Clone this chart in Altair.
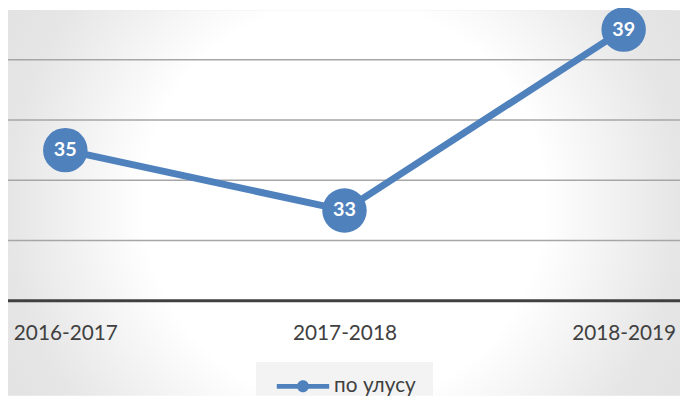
import altair as alt
import pandas as pd

years = ["2016-2017", "2017-2018", "2018-2019"]
values = [35, 33, 39]
series = ["по улусу", "по улусу", "по улусу"]
grid_values = [32, 34, 36, 38]
axis_base = [30]

df = pd.DataFrame({"year": years, "value": values, "series": series})
grid_df = pd.DataFrame({"g": grid_values})
base_df = pd.DataFrame({"g": axis_base})

W, H = 672, 294
PB = 96
BLUE = "#4F81BD"
FONT = "Lato"

y_scale = alt.Scale(domain=[30, 39.64], nice=False, zero=False)

x_enc = alt.X("year:N", sort=years, scale=alt.Scale(type="point", range=[58, 623], padding=0),
              axis=alt.Axis(title=None, labelAngle=0, ticks=False, grid=False, domain=False,
                            labelFontSize=21, labelColor="#404040", labelFont=FONT,
                            labelPadding=22, zindex=1))
y_enc = alt.Y("value:Q", scale=y_scale, axis=None)

bg_fill = alt.RadialGradient(
    gradient="radial", x1=0.5, y1=0.5, r1=0, x2=0.5, y2=0.5, r2=0.62,
    stops=[alt.GradientStop(offset=0, color="#ffffff"),
           alt.GradientStop(offset=0.48, color="#ffffff"),
           alt.GradientStop(offset=0.8, color="#e6e6e6"),
           alt.GradientStop(offset=1, color="#e0e0e0")])

bg = alt.Chart(base_df).mark_rect(fill=bg_fill).encode(
    x=alt.value(0), x2=alt.value(W + 8), y=alt.value(0), y2=alt.value(H + PB)
)

legend_box = alt.Chart(base_df).mark_rect(fill="#f3f3f3").encode(
    x=alt.value(251), x2=alt.value(430), y=alt.value(356), y2=alt.value(H + PB)
)

grid = alt.Chart(grid_df).mark_rule(color="#a6a6a6", strokeWidth=1.5).encode(
    y=alt.Y("g:Q", scale=y_scale, axis=None), x=alt.value(0), x2=alt.value(W + 8)
)

axis_line = alt.Chart(base_df).mark_rule(color="#404040", strokeWidth=3).encode(
    y=alt.Y("g:Q", scale=y_scale, axis=None), x=alt.value(0), x2=alt.value(W + 8)
)

base = alt.Chart(df).encode(x=x_enc, y=y_enc)

line = base.mark_line(color=BLUE, strokeWidth=7)

legend_path = ("M-1,-0.09 L1,-0.09 L1,0.09 L-1,0.09 Z "
               "M0.23,0 A0.23,0.23 0 1,1 -0.23,0 A0.23,0.23 0 1,1 0.23,0 Z")

points = base.mark_point(filled=True, size=2025, opacity=1).encode(
    color=alt.Color("series:N", scale=alt.Scale(range=[BLUE]),
                    legend=alt.Legend(title=None, orient="none", legendX=272, legendY=354,
                                      symbolType=legend_path, symbolSize=2809,
                                      symbolStrokeWidth=0, labelFontSize=21,
                                      labelFont=FONT, labelColor="#404040",
                                      labelOffset=5, padding=0))
)

labels = base.mark_text(color="white", fontWeight="bold", fontSize=20, font=FONT,
                        baseline="middle", align="center").encode(text="value:Q")

chart = alt.layer(bg, legend_box, grid, axis_line, line, points, labels).properties(
    width=W, height=H,
    autosize=alt.AutoSizeParams(type="none"),
    padding={"left": 0, "top": 0, "right": 8, "bottom": PB},
).configure_view(stroke=None).configure(background="#ffffff")

chart.save("out.html", embed_options={"renderer": "svg", "actions": False})
